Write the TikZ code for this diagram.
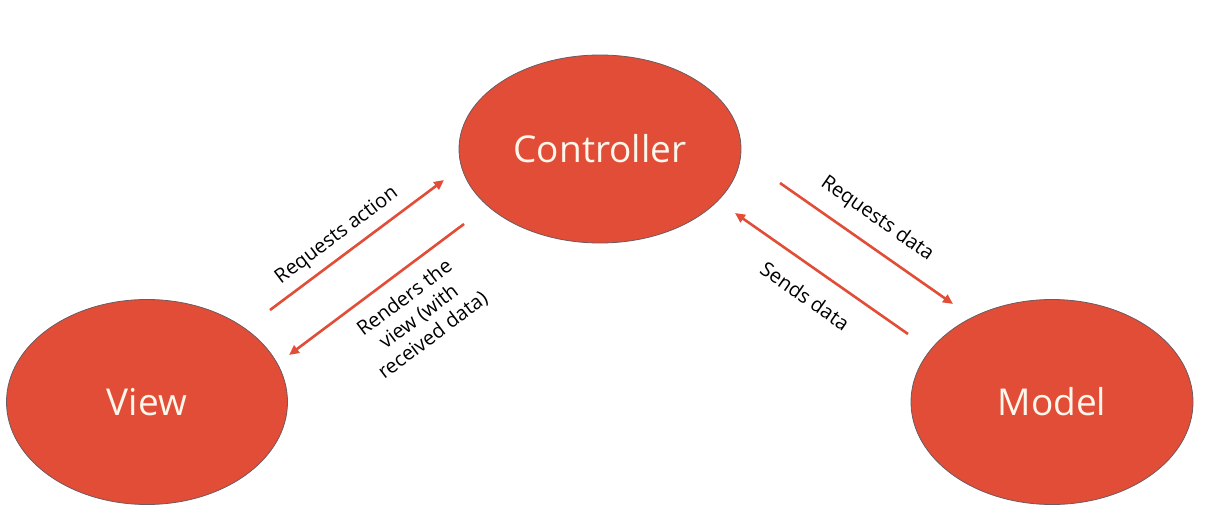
\documentclass[tikz,border=0pt]{standalone}
\usepackage{fontspec}
\setmainfont{Open Sans}
\usetikzlibrary{shapes.geometric,arrows.meta}
\definecolor{mvcred}{RGB}{225,77,54}
\definecolor{mvctext}{RGB}{255,246,236}
\definecolor{mvcedge}{RGB}{110,90,95}
\tikzset{
  blob/.style={ellipse, fill=mvcred, draw=mvcedge, line width=0.8pt, inner sep=0pt,
    text=mvctext, font=\fontsize{37}{40}\selectfont},
  flow/.style={draw=mvcred, line width=2.6pt, -{Triangle[length=10pt,width=9pt]}},
  lbl/.style={font=\fontsize{20}{23.5}\selectfont, align=center, inner sep=0pt}
}
\begin{document}
\begin{tikzpicture}[x=1pt,y=-1pt]
\useasboundingbox (0,0) rectangle (1205,522);
\node[blob, minimum width=282pt, minimum height=188pt] (ctrl) at (600,149) {Controller};
\node[blob, minimum width=281pt, minimum height=205pt] (view) at (147,402) {View};
\node[blob, minimum width=282pt, minimum height=205pt] (model) at (1052,402) {Model};

\coordinate (ra1) at (270,310);
\coordinate (ra2) at (444,180);
\coordinate (rv1) at (464,224);
\coordinate (rv2) at (289,355);
\coordinate (rd1) at (780,183);
\coordinate (rd2) at (953,304);
\coordinate (sd1) at (908,334);
\coordinate (sd2) at (735,213);

\draw[flow] (ra1) -- (ra2);
\draw[flow] (rv1) -- (rv2);
\draw[flow] (rd1) -- (rd2);
\draw[flow] (sd1) -- (sd2);

\node[lbl, rotate=37] (lra) at (337,236) {Requests action};
\node[lbl, rotate=37] (lrv) at (419,317) {Renders the\\view (with\\received data)};
\node[lbl, rotate=-35] (lrd) at (877,219) {Requests data};
\node[lbl, rotate=-35] (lsd) at (805,296) {Sends data};
\end{tikzpicture}
\end{document}
